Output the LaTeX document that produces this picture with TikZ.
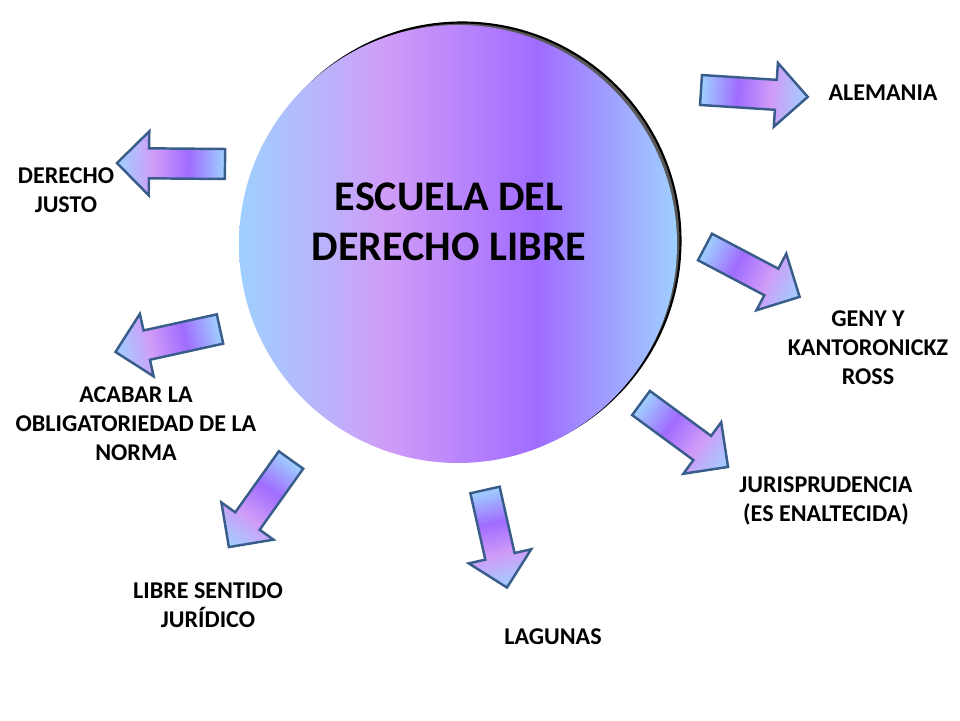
\documentclass[tikz,border=0pt]{standalone}
\usepackage{fontspec}
\setmainfont{Carlito}
\definecolor{celeste}{HTML}{9FD0FF}
\definecolor{lila}{HTML}{D09CF8}
\definecolor{morado}{HTML}{A06CFF}
\definecolor{borde}{HTML}{385D8A}
\pgfdeclarehorizontalshading{bola}{100bp}{color(0bp)=(celeste); color(25bp)=(celeste); color(42bp)=(lila); color(59bp)=(morado); color(75bp)=(celeste); color(100bp)=(celeste)}
\pgfdeclarehorizontalshading{flechado}{100bp}{color(0bp)=(celeste); color(25bp)=(celeste); color(42bp)=(morado); color(58bp)=(lila); color(75bp)=(celeste); color(100bp)=(celeste)}
\tikzset{
  etiqueta/.style={font=\fontsize{13.7}{16.5}\selectfont\bfseries,align=center,inner sep=0pt},
  titulo/.style={font=\fontsize{24}{28.5}\selectfont\bfseries,align=center,inner sep=0pt},
  flechabox/.style={draw=borde,line width=1.4pt,line join=miter,shading=flechado,shading angle=0}
}
% block arrow: tail centre (#1,#2), angle #3, length #4
\newcommand{\flecha}[4]{
  \begin{scope}[transform canvas={shift={(#1,#2)},rotate=#3}]
    \path[flechabox] (0,-15)--(#4-32,-15)--(#4-32,-32)--(#4,0)--(#4-32,32)--(#4-32,15)--(0,15)--cycle;
  \end{scope}
}
\begin{document}
\begin{tikzpicture}[x=0.02cm,y=0.02cm]
  \useasboundingbox (0,0) rectangle (960,720);
  \draw[black,fill=gray!70!black,line width=1.2pt] (462,479) circle (218.5);
  \path[shading=bola,shading angle=0] (458,476) circle (219);
  \node[titulo] (escuela) at (449,498) {ESCUELA DEL\\DERECHO LIBRE};
  \flecha{701}{630}{-3.7}{107}
  \flecha{225}{556}{179.5}{108}
  \flecha{705}{473}{-27.8}{107}
  \flecha{641}{317}{-36.3}{108}
  \flecha{485}{230}{-77.3}{100}
  \flecha{291}{260}{234.5}{107}
  \flecha{220}{391}{192.4}{107}
  \node[etiqueta] (alemania) at (883,627) {ALEMANIA};
  \node[etiqueta] (justo) at (66,530) {DERECHO\\JUSTO};
  \node[etiqueta] (geny) at (868,372) {GENY Y\\KANTORONICKZ\\ROSS};
  \node[etiqueta] (acabar) at (136,296) {ACABAR LA\\OBLIGATORIEDAD DE LA\\NORMA};
  \node[etiqueta] (juris) at (826,219) {JURISPRUDENCIA\\(ES ENALTECIDA)};
  \node[etiqueta] (sentido) at (208,115) {LIBRE SENTIDO\\JURÍDICO};
  \node[etiqueta] (lagunas) at (553,83) {LAGUNAS};
\end{tikzpicture}
\end{document}
